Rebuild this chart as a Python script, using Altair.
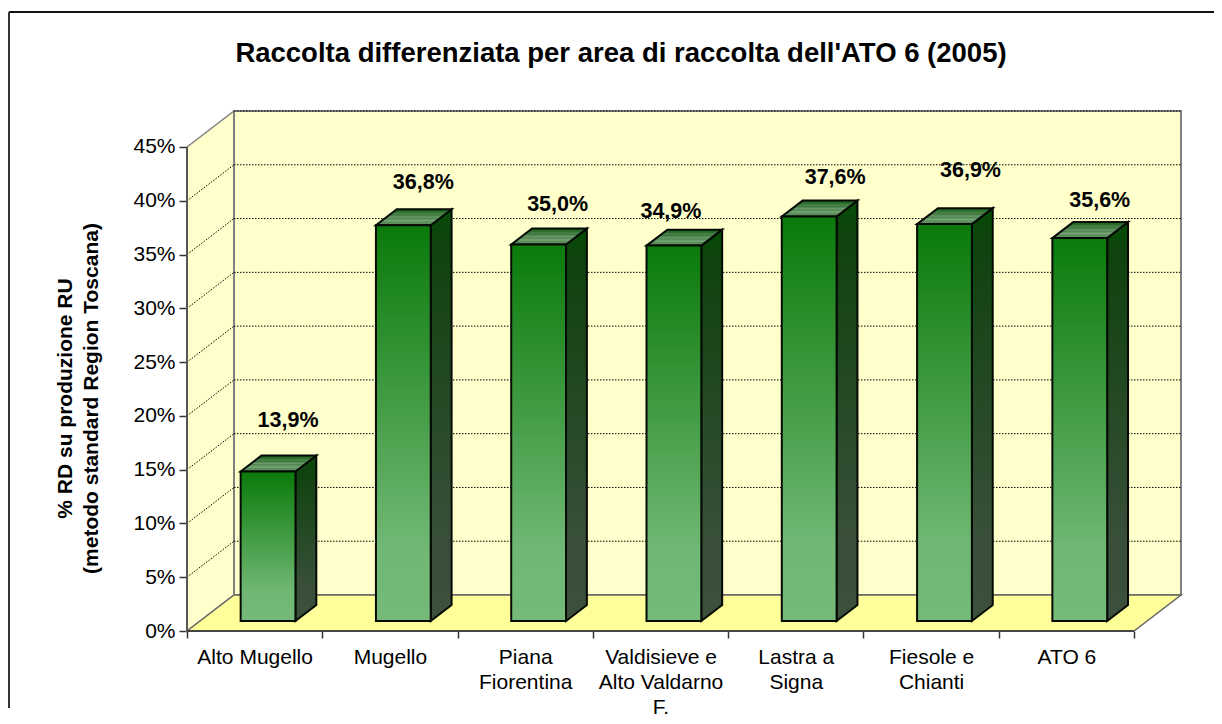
import json
import altair as alt
import pandas as pd

CATEGORIES = ["Alto Mugello", "Mugello", "Piana|Fiorentina", "Valdisieve e|Alto Valdarno|F.",
              "Lastra a|Signa", "Fiesole e|Chianti", "ATO 6"]
VALUES = [13.9, 36.8, 35.0, 34.9, 37.6, 36.9, 35.6]
TICKS = [0, 5, 10, 15, 20, 25, 30, 35, 40, 45]
TITLE = "Raccolta differenziata per area di raccolta dell'ATO 6 (2005)"
Y_TITLE = ["% RD su produzione RU", "(metodo standard Region Toscana)"]
# hand-placed data label nudges of the original (px right of bar centre, px above bar top)
LABEL_RIGHT = [20, 20, 19, -3, 26, 26, 20]
LABEL_UP = [50, 42, 40, 34, 39, 53, 37]

FONT = "Liberation Sans"
W, H = 994, 520
N = len(CATEGORIES)
DX = 47 / 135.3          # depth of the 3-D box, in category units
DY = 36 / 10.757         # depth of the 3-D box, in percent units
XMAX, YMAX = N + DX, 45 + DY
D0, D1 = 0.278, 0.722    # front and back of a bar inside the box depth
B0, B1 = 0.30, 0.705     # bar edges inside a category
sx = alt.Scale(domain=[0, XMAX], nice=False, zero=False)
sy = alt.Scale(domain=[0, YMAX], nice=False, zero=False)

yaxis = alt.Axis(values=TICKS, labelExpr="datum.value + '%'", domain=False, grid=False,
                 tickSize=8, tickColor="#333333", tickWidth=1.5, labelPadding=4,
                 labelFont=FONT, labelFontSize=21, labelColor="#000000",
                 title=Y_TITLE, titleFont=FONT, titleFontSize=21, titleFontWeight="bold",
                 titleColor="#000000", titleLineHeight=26, titleX=-112, titleY=287,
                 titleAlign="center")
names = json.dumps(CATEGORIES)
xaxis = alt.Axis(values=[k / 2 for k in range(2 * N + 1)],
                 labelExpr=f"datum.value == floor(datum.value) ? '' : split({names}[floor(datum.value)], '|')",
                 domain=False, grid=False, labelOverlap=False, labelFlush=False, labelAngle=0,
                 tickSize=7, tickColor="#333333", tickWidth=1.5,
                 tickOpacity=alt.condition("datum.value == floor(datum.value)", alt.value(1), alt.value(0)),
                 labelPadding=8, labelFont=FONT, labelFontSize=21, labelColor="#000000",
                 labelLineHeight=25, title=None)


def X():
    return alt.X("x:Q", scale=sx, axis=xaxis)


def Y():
    return alt.Y("y:Q", scale=sy, axis=yaxis)


Y2 = alt.Y2("y2:Q")


def grad(stops):
    return alt.Gradient(gradient="linear", x1=0, x2=0, y1=0, y2=1,
                        stops=[alt.GradientStop(offset=o, color=c) for o, c in stops])


FRONT = grad([(0, "#0a7a0a"), (0.8, "#6fb773"), (1, "#75ba78")])
SIDE = grad([(0, "#044c04"), (0.08, "#0f420f"), (0.8, "#394f39"), (1, "#3c503c")])
TOP = grad([(0, "#145f14"), (0.18, "#2f6f2f"), (0.28, "#4a844a"), (0.36, "#3c763c"),
            (0.5, "#6a9a6a"), (0.58, "#4f854f"), (0.72, "#7aa67a"), (0.8, "#5b8d5b"), (1, "#5f905f")])

front, side, top, labels = [], [], [], []
for i, v in enumerate(VALUES):
    L, R = i + B0, i + B1
    front.append(dict(x=L + DX * D0, x2=R + DX * D0, y=v + DY * D0, y2=DY * D0))
    side += [dict(b=i, x=R + DX * D0, y=v + DY * D0, y2=DY * D0),
             dict(b=i, x=R + DX * D1, y=v + DY * D1, y2=DY * D1)]
    top += [dict(b=i, x=L + DX * D0, y=v + DY * D0, y2=v + DY * D0),
            dict(b=i, x=L + DX * D1, y=v + DY * D1, y2=v + DY * D0),
            dict(b=i, x=R + DX * D0, y=v + DY * D1, y2=v + DY * D0),
            dict(b=i, x=R + DX * D1, y=v + DY * D1, y2=v + DY * D1)]
    labels.append(dict(x=(L + R) / 2 + DX * D0 + LABEL_RIGHT[i] / 135.3,
                       y=v + DY * D0 + LABEL_UP[i] / 10.757,
                       t=f"{v:.1f}%".replace(".", ",")))

left_wall = alt.Chart(pd.DataFrame([dict(x=0, y=45, y2=0), dict(x=DX, y=YMAX, y2=DY)])).mark_area(
    color="#ffffcc", stroke="#808080", strokeWidth=1.5).encode(X(), Y(), Y2)
back_wall = alt.Chart(pd.DataFrame([dict(x=DX, x2=XMAX, y=YMAX, y2=DY)])).mark_rect(
    color="#ffffcc", stroke="#808080", strokeWidth=2).encode(X(), alt.X2("x2:Q"), Y(), Y2)
grid_back = alt.Chart(pd.DataFrame([dict(x=DX, x2=XMAX, y=t + DY) for t in TICKS[1:]])).mark_rule(
    color="#000000", strokeWidth=1, strokeDash=[1.5, 1.5]).encode(X(), alt.X2("x2:Q"), Y())
grid_side = alt.Chart(pd.DataFrame(
    [r for t in TICKS[1:-1] for r in (dict(g=t, x=0, y=t), dict(g=t, x=DX, y=t + DY))])).mark_line(
    color="#000000", strokeWidth=1, strokeDash=[1.5, 1.5]).encode(X(), Y(), detail="g:N")
floor_ = alt.Chart(pd.DataFrame([dict(x=0, y=0, y2=0), dict(x=DX, y=DY, y2=0),
                                 dict(x=N, y=DY, y2=0), dict(x=XMAX, y=DY, y2=DY)])).mark_area(
    color="#ffff99", stroke="#666666", strokeWidth=1.5).encode(X(), Y(), Y2)
axis_y = alt.Chart(pd.DataFrame([dict(x=0, y=0, y2=45)])).mark_rule(
    color="#555555", strokeWidth=2).encode(X(), Y(), Y2)
axis_x = alt.Chart(pd.DataFrame([dict(x=0, x2=N, y=0)])).mark_rule(
    color="#444444", strokeWidth=2).encode(X(), alt.X2("x2:Q"), Y())
sides = alt.Chart(pd.DataFrame(side)).mark_area(
    color=SIDE, stroke="#050a05", strokeWidth=2).encode(X(), Y(), Y2, detail="b:N")
tops = alt.Chart(pd.DataFrame(top)).mark_area(
    color=TOP, stroke="#050a05", strokeWidth=2).encode(X(), Y(), Y2, detail="b:N")
fronts = alt.Chart(pd.DataFrame(front)).mark_rect(
    color=FRONT, stroke="#050a05", strokeWidth=2).encode(X(), alt.X2("x2:Q"), Y(), Y2)
texts = alt.Chart(pd.DataFrame(labels)).mark_text(
    font=FONT, fontSize=21.5, fontWeight="bold", color="#000000", baseline="middle").encode(X(), Y(), text="t:N")
title_mark = alt.Chart(pd.DataFrame([dict(t=TITLE)])).mark_text(
    font=FONT, fontSize=27.5, fontWeight="bold", color="#000000", baseline="middle").encode(
    x=alt.value(434), y=alt.value(-57), text="t:N")
frame_top = alt.Chart(pd.DataFrame([dict(k=0)])).mark_rule(color="#111111", strokeWidth=2).encode(
    x=alt.value(-178), x2=alt.value(1027), y=alt.value(-99))
frame_left = alt.Chart(pd.DataFrame([dict(k=0)])).mark_rule(color="#333333", strokeWidth=2).encode(
    x=alt.value(-178), y=alt.value(-99), y2=alt.value(597))

chart = alt.layer(left_wall, back_wall, grid_back, grid_side, floor_, axis_y, axis_x,
                  sides, tops, fronts, texts, title_mark, frame_top, frame_left).properties(
    width=W, height=H,
    autosize="none",
    padding={"left": 179, "top": 103, "right": 33, "bottom": 85},
    background="#ffffff",
).configure_view(stroke=None)

chart.save("out.html", embed_options={"renderer": "svg", "actions": False})
